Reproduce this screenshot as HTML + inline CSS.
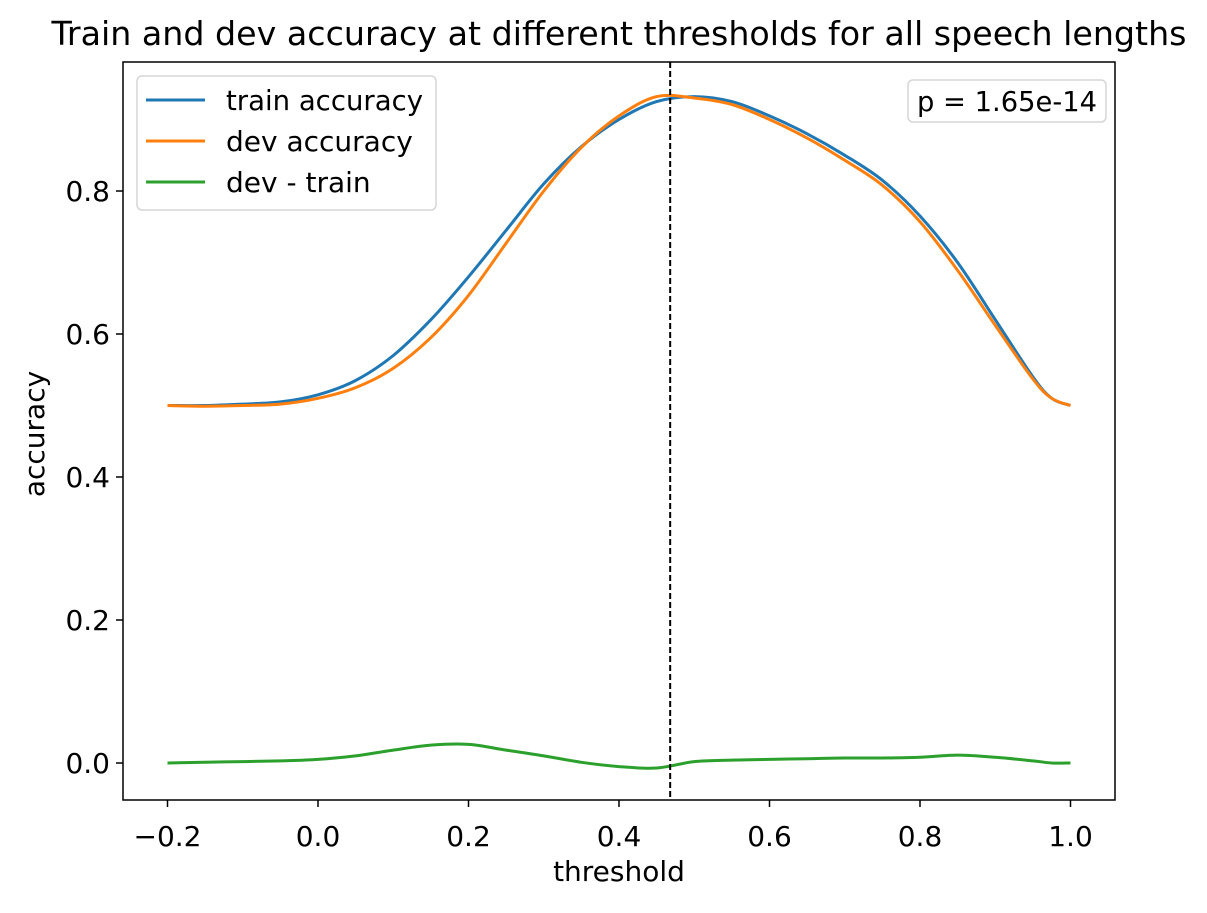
<!DOCTYPE html>
<html><head><meta charset="utf-8"><style>
body{margin:0;background:#fff}
svg text{font-family:"DejaVu Sans","Liberation Sans",sans-serif;fill:#000}
</style></head><body>
<svg id="chart" width="1207" height="908" xmlns="http://www.w3.org/2000/svg">
<rect width="1207" height="908" fill="#fff"/>
<text x="619" y="45" font-size="33" text-anchor="middle" textLength="1135" lengthAdjust="spacingAndGlyphs">Train and dev accuracy at different thresholds for all speech lengths</text>
<g id="marks"></g>
<g id="axes"></g>
<rect x="123" y="62" width="992" height="738" fill="none" stroke="#000" stroke-width="1.5"/>
<text x="619" y="881" font-size="28" text-anchor="middle">threshold</text>
<text transform="translate(44,434) rotate(-90)" font-size="28" text-anchor="middle">accuracy</text>
<g>
<rect x="137" y="76" width="299" height="134" rx="5" fill="#fff" fill-opacity="0.8" stroke="#d6d6d6" stroke-width="1.5"/>
<g><line x1="146" y1="100" x2="205" y2="100" stroke="#1f77b4" stroke-width="3"/><text x="226" y="110" font-size="28" textLength="197" lengthAdjust="spacingAndGlyphs">train accuracy</text></g>
<g><line x1="146" y1="141" x2="205" y2="141" stroke="#ff7f0e" stroke-width="3"/><text x="226" y="151" font-size="28">dev accuracy</text></g>
<g><line x1="146" y1="182" x2="205" y2="182" stroke="#2ca02c" stroke-width="3"/><text x="226" y="192" font-size="28">dev - train</text></g>
</g>
<g>
<rect x="908" y="80" width="198" height="42" rx="5" fill="#fff" stroke="#d6d6d6" stroke-width="1.5"/>
<text x="1007" y="111" font-size="28" text-anchor="middle" textLength="180" lengthAdjust="spacingAndGlyphs">p = 1.65e-14</text>
</g>
</svg>
<script>
const thresholds=[-0.2,-0.15,-0.1,-0.05,0,0.05,0.1,0.15,0.2,0.25,0.3,0.35,0.4,0.45,0.5,0.55,0.6,0.65,0.7,0.75,0.8,0.85,0.9,0.95,0.975,1.0];
const trainAcc=[0.5,0.5,0.502,0.505,0.515,0.535,0.57,0.62,0.68,0.745,0.81,0.862,0.9,0.925,0.932,0.925,0.905,0.88,0.85,0.815,0.765,0.70,0.62,0.54,0.51,0.5];
const diffVals=[0,0.001,0.002,0.003,0.005,0.01,0.018,0.025,0.026,0.018,0.01,0.001,-0.005,-0.007,0.002,0.004,0.005,0.006,0.007,0.007,0.008,0.011,0.008,0.003,0,0];
const devAcc=trainAcc.map((v,i)=>v-diffVals[i]);
const xTicks=[-0.2,0.0,0.2,0.4,0.6,0.8,1.0];
const yTicks=[0.0,0.2,0.4,0.6,0.8];
const bestThreshold=0.468;
const NS="http://www.w3.org/2000/svg";
const X=v=>318+v*752.5, Y=v=>763-v*715;
const marks=document.getElementById('marks'), axes=document.getElementById('axes');
function line(x1,y1,x2,y2,st,sw,dash){const l=document.createElementNS(NS,'line');l.setAttribute('x1',x1);l.setAttribute('y1',y1);l.setAttribute('x2',x2);l.setAttribute('y2',y2);l.setAttribute('stroke',st);l.setAttribute('stroke-width',sw);if(dash)l.setAttribute('stroke-dasharray',dash);return l;}
function series(vals,color,name){const pts=vals.map((v,i)=>[X(thresholds[i]),Y(v)]);
let d='M'+pts[0][0]+','+pts[0][1];
for(let i=0;i<pts.length-1;i++){const p0=pts[i-1]||pts[i],p1=pts[i],p2=pts[i+1],p3=pts[i+2]||p2;
d+='C'+(p1[0]+(p2[0]-p0[0])/6).toFixed(1)+','+(p1[1]+(p2[1]-p0[1])/6).toFixed(1)+' '+(p2[0]-(p3[0]-p1[0])/6).toFixed(1)+','+(p2[1]-(p3[1]-p1[1])/6).toFixed(1)+' '+p2[0].toFixed(1)+','+p2[1].toFixed(1);}
const p=document.createElementNS(NS,'path');
p.setAttribute('d',d);
p.setAttribute('fill','none');p.setAttribute('stroke',color);p.setAttribute('stroke-width','3');p.setAttribute('stroke-linejoin','round');


marks.appendChild(p);}
series(trainAcc,'#1f77b4','train-accuracy-line');
series(devAcc,'#ff7f0e','dev-accuracy-line');
series(diffVals,'#2ca02c','dev-minus-train-line');
const vl=line(X(bestThreshold),62,X(bestThreshold),800,'#000',2,'6,3');


marks.appendChild(vl);
xTicks.forEach(t=>{const g=document.createElementNS(NS,'g');


g.appendChild(line(X(t),800,X(t),807,'#000',1.5));
const tx=document.createElementNS(NS,'text');tx.setAttribute('x',X(t));tx.setAttribute('y',846);tx.setAttribute('font-size','28');tx.setAttribute('text-anchor','middle');tx.textContent=t.toFixed(1).replace('-','\u2212');g.appendChild(tx);axes.appendChild(g);});
yTicks.forEach(t=>{const g=document.createElementNS(NS,'g');


g.appendChild(line(116,Y(t),123,Y(t),'#000',1.5));
const tx=document.createElementNS(NS,'text');tx.setAttribute('x',110);tx.setAttribute('y',Y(t)+10);tx.setAttribute('font-size','28');tx.setAttribute('text-anchor','end');tx.textContent=t.toFixed(1);g.appendChild(tx);axes.appendChild(g);});
</script>
</body></html>
